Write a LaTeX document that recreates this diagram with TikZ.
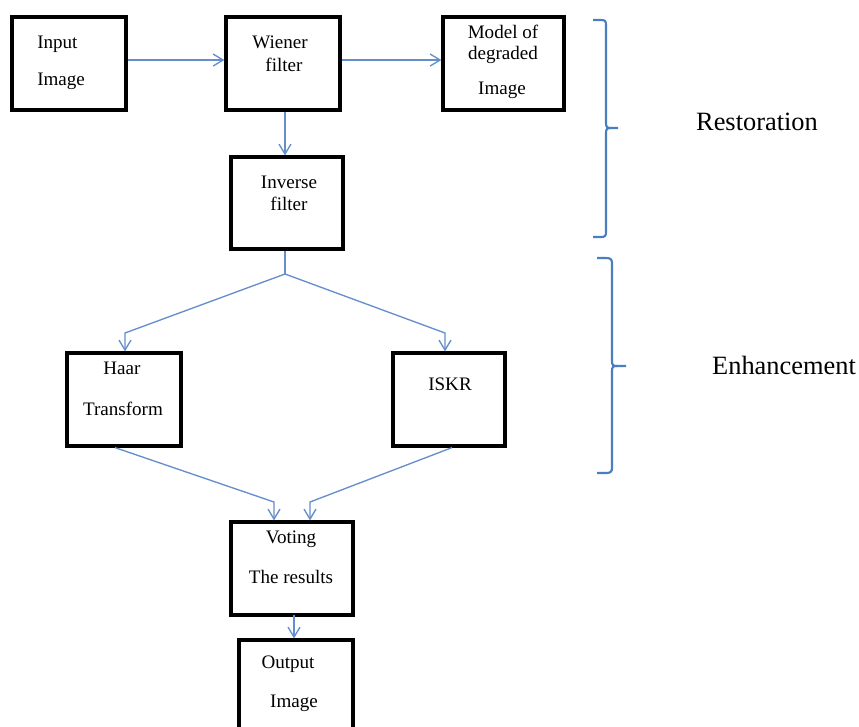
\documentclass[tikz,border=0pt]{standalone}
\usepackage{fontspec}
\setmainfont{Liberation Serif}
\usetikzlibrary{arrows.meta}
\definecolor{conncol}{RGB}{100,142,204}
\definecolor{bracecol}{RGB}{74,126,190}
\tikzset{
  box/.style={draw=black, line width=2.4pt, fill=white, inner sep=0pt},
  conn/.style={draw=conncol, line width=1pt, -{Straight Barb[length=7.5pt,width=9pt,line width=1pt]}},
  plainconn/.style={draw=conncol, line width=1pt},
  bracestyle/.style={draw=bracecol, line width=1.6pt},
  txt/.style={font=\fontsize{14.3}{17}\selectfont, inner sep=0pt},
  bigtxt/.style={font=\fontsize{19.8}{23}\selectfont, inner sep=0pt}
}
\begin{document}
\begin{tikzpicture}[x=0.75pt,y=-0.75pt]
\clip (0,0) rectangle (859,726);
\fill[white] (0,0) rectangle (859,726);

% boxes
\node[box, minimum width=85.5pt, minimum height=69.75pt] (input) at (69,63.5) {};
\node[box, minimum width=85.5pt, minimum height=69.75pt] (wiener) at (283,63.5) {};
\node[box, minimum width=90.75pt, minimum height=69.75pt] (model) at (503.5,63.5) {};
\node[box, minimum width=84pt, minimum height=69pt] (inverse) at (287,203) {};
\node[box, minimum width=85.5pt, minimum height=69.75pt] (haar) at (124,399.5) {};
\node[box, minimum width=84pt, minimum height=69.75pt] (iskr) at (449,399.5) {};
\node[box, minimum width=91.5pt, minimum height=69.75pt] (voting) at (292,568.5) {};
\node[box, minimum width=85.5pt, minimum height=75pt] (output) at (296,690) {};

% texts
\node[txt, anchor=base west] (t1) at (37,48) {Input};
\node[txt, anchor=base west] (t2) at (37,85) {Image};
\node[txt, anchor=base] (t3) at (280,48) {Wiener};
\node[txt, anchor=base] (t4) at (284,71) {filter};
\node[txt, anchor=base] (t5) at (503,38) {Model of};
\node[txt, anchor=base] (t6) at (503,59) {degraded};
\node[txt, anchor=base] (t7) at (502,94) {Image};
\node[txt, anchor=base] (t8) at (289,188) {Inverse};
\node[txt, anchor=base] (t9) at (289,210) {filter};
\node[txt, anchor=base] (t10) at (122,374) {Haar};
\node[txt, anchor=base] (t11) at (123,415) {Transform};
\node[txt, anchor=base] (t12) at (450,390) {ISKR};
\node[txt, anchor=base] (t13) at (291,543) {Voting};
\node[txt, anchor=base] (t14) at (291,583) {The results};
\node[txt, anchor=base] (t15) at (288,668) {Output};
\node[txt, anchor=base] (t16) at (294,707) {Image};
\node[bigtxt, anchor=base] (rest) at (757,130) {Restoration};
\node[bigtxt, anchor=base] (enh) at (784,374) {Enhancement};

% connectors
\draw[conn] ([yshift=2.6pt]input.east) -- ([yshift=2.6pt]wiener.west);
\draw[conn] ([yshift=2.6pt]wiener.east) -- ([yshift=2.6pt]model.west);
\draw[conn] ([xshift=1.5pt]wiener.south) -- ([xshift=1.5pt]wiener.south |- inverse.north);
\coordinate (split) at (285,274);
\coordinate (hl) at (125,333);
\coordinate (hr) at (445,333);
\draw[plainconn] ([xshift=-1.5pt]inverse.south) -- (split);
\draw[conn] (split) -- (hl) -- (hl |- haar.north);
\draw[conn] (split) -- (hr) -- (hr |- iskr.north);
\coordinate (vl) at (274,502);
\coordinate (vr) at (310,502);
\draw[conn] ([xshift=-6.75pt]haar.south) -- (vl) -- (vl |- voting.north);
\draw[conn] ([xshift=2.25pt]iskr.south) -- (vr) -- (vr |- voting.north);
\coordinate (vb) at (294,615);
\draw[conn] (vb) -- (vb |- output.north);

% braces
\draw[bracestyle] (593,20) -- (601,20) .. controls (605,20) and (606,21) .. (606,25) -- (606,123) .. controls (606,127) and (607,128) .. (611,128) -- (618,128);
\draw[bracestyle] (611,128) .. controls (607,128) and (606,129) .. (606,133) -- (606,232) .. controls (606,236) and (605,237) .. (601,237) -- (593,237);
\draw[bracestyle] (597,258) -- (606,258) .. controls (610,258) and (612,259) .. (612,263) -- (612,361) .. controls (612,365) and (613,366) .. (617,366) -- (626,366);
\draw[bracestyle] (617,366) .. controls (613,366) and (612,367) .. (612,371) -- (612,468) .. controls (612,472) and (610,473) .. (606,473) -- (597,473);
\end{tikzpicture}
\end{document}
